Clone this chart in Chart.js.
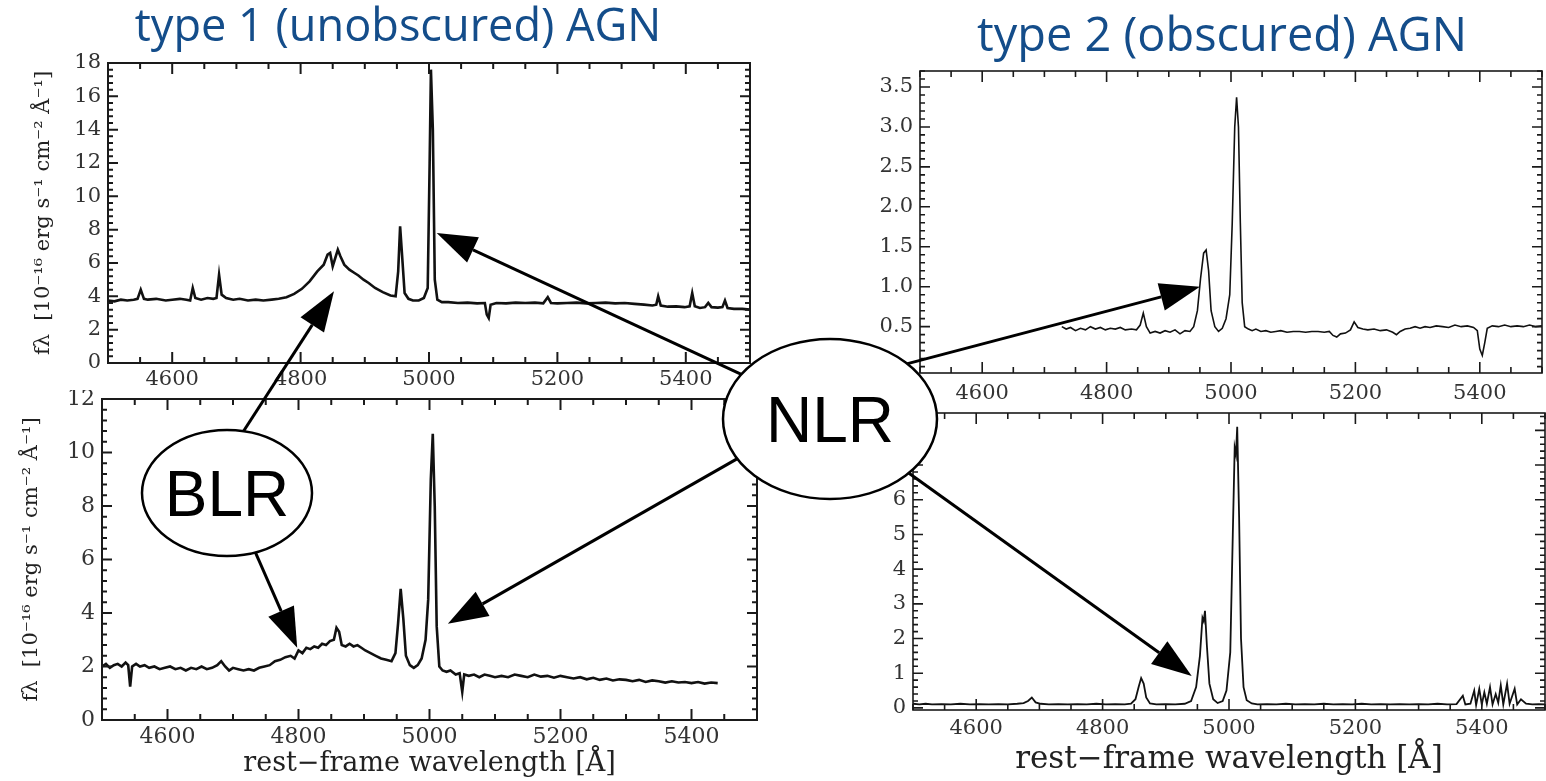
<!DOCTYPE html>
<html>
<head>
<meta charset="utf-8">
<script src="https://cdn.jsdelivr.net/npm/chart.js@4.4.1/dist/chart.umd.min.js"></script>
<style>
  html, body { margin: 0; padding: 0; background: #fff; }
  body { width: 1546px; height: 781px; position: relative; overflow: hidden; }
  canvas { position: absolute; }
</style>
</head>
<body>
<canvas id="c1" width="760" height="345" style="left:0;top:50px"></canvas>
<canvas id="c2" width="770" height="391" style="left:0;top:390px"></canvas>
<canvas id="c3" width="696" height="345" style="left:850px;top:60px"></canvas>
<canvas id="c4" width="696" height="376" style="left:850px;top:405px"></canvas>
<canvas id="overlay" width="1546" height="781" style="left:0;top:0;pointer-events:none"></canvas>
<script>
// type 1, upper spectrum
const wlT1a = [4500,4510,4520,4530,4540,4546,4551,4556,4562,4575,
  4590,4600,4612,4622,4628,4632,4636,4645,4655,4664,
  4669,4673,4677,4684,4695,4705,4718,4730,4742,4755,
  4766,4778,4790,4802,4814,4826,4836,4842,4846,4850,
  4854,4858,4862,4868,4876,4884,4890,4898,4906,4916,
  4928,4940,4948,4952,4955,4958,4962,4968,4975,4984,
  4992,4998,5001,5003,5006,5009,5013,5020,5030,5045,
  5060,5075,5087,5090,5093,5096,5105,5120,5135,5150,
  5165,5178,5185,5190,5200,5215,5230,5245,5260,5275,
  5290,5305,5320,5335,5348,5354,5357,5361,5372,5385,
  5398,5406,5410,5414,5422,5430,5435,5440,5450,5457,
  5461,5465,5475,5488,5500];
const flT1a = [3.75,3.7,3.8,3.75,3.8,3.85,4.4,3.85,3.8,3.85,
  3.75,3.8,3.85,3.8,3.75,4.5,3.9,3.8,3.9,3.85,
  3.9,5.3,4.1,3.9,3.8,3.85,3.75,3.8,3.75,3.8,
  3.85,3.95,4.15,4.45,4.9,5.5,5.9,6.5,6.6,5.8,
  6.3,6.8,6.4,5.9,5.6,5.4,5.25,5.0,4.8,4.5,
  4.25,4.05,4.0,5.5,8.2,6.5,4.2,3.85,3.75,3.75,
  3.9,4.5,12,17.6,14,5.0,3.8,3.65,3.65,3.6,
  3.62,3.58,3.6,2.9,2.7,3.5,3.6,3.58,3.62,3.6,
  3.62,3.58,3.95,3.6,3.58,3.6,3.62,3.58,3.6,3.62,
  3.58,3.6,3.55,3.5,3.45,3.5,4.0,3.45,3.38,3.4,
  3.35,3.4,4.2,3.4,3.3,3.35,3.6,3.35,3.32,3.35,
  3.75,3.3,3.25,3.25,3.2];

// type 1, lower spectrum
const wlT1b = [4500,4506,4512,4518,4524,4530,4536,4540,4543,4546,
  4552,4558,4565,4572,4580,4588,4596,4604,4612,4620,
  4628,4636,4644,4652,4660,4668,4676,4682,4688,4694,
  4700,4708,4716,4724,4732,4740,4748,4756,4764,4772,
  4780,4788,4794,4800,4806,4812,4818,4824,4830,4836,
  4842,4848,4854,4858,4862,4866,4872,4878,4884,4890,
  4896,4902,4910,4918,4926,4934,4942,4948,4952,4956,
  4960,4964,4970,4976,4982,4988,4994,4998,5002,5005,
  5008,5011,5015,5020,5026,5032,5040,5046,5050,5053,
  5060,5068,5076,5084,5092,5100,5110,5120,5130,5140,
  5150,5160,5170,5180,5190,5200,5210,5220,5230,5240,
  5250,5260,5270,5280,5290,5300,5310,5320,5330,5340,
  5350,5360,5370,5380,5390,5400,5410,5420,5430,5440];
const flT1b = [2.0,2.1,1.95,2.05,2.1,2.0,2.15,2.05,1.25,2.0,
  2.1,2.0,2.05,1.95,2.0,1.9,1.95,2.0,1.9,1.95,
  1.85,1.95,1.9,2.0,1.9,1.95,2.05,2.2,2.0,1.85,
  1.95,1.9,1.85,1.9,1.85,1.95,2.0,2.05,2.2,2.25,
  2.35,2.4,2.3,2.6,2.5,2.7,2.65,2.75,2.7,2.85,
  2.8,2.95,3.0,3.45,3.3,2.8,2.75,2.85,2.75,2.8,
  2.7,2.6,2.5,2.4,2.3,2.25,2.2,2.5,3.6,4.9,
  3.8,2.4,2.05,1.95,2.05,2.3,3.0,4.5,9.0,10.7,
  8.0,3.5,2.0,1.85,1.8,1.85,1.7,1.75,1.05,1.7,
  1.65,1.7,1.6,1.7,1.65,1.6,1.65,1.6,1.7,1.65,
  1.6,1.7,1.62,1.65,1.58,1.65,1.6,1.55,1.6,1.52,
  1.58,1.5,1.55,1.48,1.52,1.5,1.45,1.5,1.42,1.48,
  1.45,1.4,1.45,1.4,1.42,1.38,1.42,1.36,1.4,1.38];

// type 2, upper spectrum
const wlT2a = [4728,4735,4742,4750,4758,4766,4774,4782,4790,4798,
  4806,4814,4822,4830,4840,4848,4854,4859,4864,4870,
  4878,4886,4894,4902,4910,4918,4926,4934,4940,4946,
  4951,4956,4960,4964,4968,4974,4980,4986,4992,4998,
  5002,5006,5009,5012,5015,5018,5022,5028,5034,5040,
  5048,5056,5064,5072,5080,5090,5100,5110,5120,5130,
  5140,5150,5158,5164,5170,5176,5184,5192,5198,5204,
  5212,5220,5230,5240,5250,5260,5266,5272,5280,5288,
  5296,5304,5312,5320,5330,5340,5350,5360,5370,5380,
  5390,5396,5400,5404,5408,5412,5420,5430,5440,5450,
  5460,5470,5480,5490,5500];
const flT2a = [0.5,0.47,0.49,0.45,0.48,0.46,0.5,0.47,0.49,0.46,
  0.48,0.47,0.49,0.46,0.47,0.46,0.52,0.67,0.5,0.42,
  0.44,0.42,0.45,0.43,0.46,0.41,0.45,0.44,0.5,0.7,
  1.1,1.42,1.46,1.2,0.7,0.5,0.44,0.48,0.6,0.9,
  1.8,3.0,3.37,3.0,1.8,0.8,0.5,0.47,0.45,0.47,
  0.44,0.45,0.43,0.44,0.45,0.43,0.44,0.44,0.43,0.44,
  0.44,0.43,0.44,0.39,0.37,0.41,0.42,0.46,0.56,0.49,
  0.47,0.46,0.47,0.45,0.46,0.43,0.4,0.44,0.47,0.48,
  0.5,0.48,0.5,0.49,0.51,0.5,0.49,0.52,0.5,0.51,
  0.49,0.45,0.22,0.14,0.3,0.48,0.51,0.5,0.52,0.5,
  0.51,0.5,0.52,0.5,0.51];

// type 2, lower spectrum
const wlT2b = [4500,4510,4520,4530,4545,4560,4575,4590,4605,4620,
  4635,4650,4665,4675,4682,4688,4694,4702,4715,4730,
  4745,4760,4775,4790,4805,4820,4835,4845,4852,4857,
  4861,4865,4869,4875,4885,4900,4915,4930,4940,4948,
  4954,4958,4960,4962,4965,4969,4975,4982,4990,4996,
  5002,5006,5009,5011,5013,5016,5019,5023,5028,5036,
  5045,5060,5075,5090,5105,5120,5135,5150,5165,5180,
  5195,5210,5225,5240,5255,5270,5285,5300,5315,5330,
  5345,5360,5370,5374,5382,5388,5391,5396,5400,5404,
  5408,5413,5417,5422,5426,5430,5434,5440,5444,5452,
  5456,5462,5470,5480,5490,5500];
const flT2b = [0.12,0.1,0.12,0.1,0.11,0.1,0.12,0.1,0.11,0.1,
  0.11,0.1,0.12,0.14,0.2,0.3,0.16,0.12,0.1,0.11,
  0.1,0.11,0.1,0.12,0.1,0.11,0.1,0.12,0.25,0.6,
  0.86,0.7,0.3,0.13,0.1,0.11,0.1,0.12,0.2,0.6,
  1.5,2.6,2.5,2.8,1.8,0.7,0.25,0.14,0.2,0.5,
  1.6,5.0,7.5,7.3,8.1,5.5,2.0,0.6,0.22,0.13,
  0.1,0.11,0.1,0.12,0.1,0.11,0.1,0.12,0.1,0.11,
  0.1,0.12,0.1,0.11,0.1,0.11,0.1,0.11,0.1,0.12,
  0.1,0.11,0.35,0.1,0.12,0.5,0.08,0.55,0.1,0.45,
  0.12,0.6,0.1,0.4,0.15,0.65,0.1,0.7,0.12,0.55,
  0.1,0.25,0.12,0.1,0.11,0.1];

// tick labels
const xLabels = [4600, 4800, 5000, 5200, 5400];
const yLabels1 = [0, 2, 4, 6, 8, 10, 12, 14, 16, 18];
const yLabels2 = [0, 2, 4, 6, 8, 10, 12];
const yLabels3 = [0.5, 1.0, 1.5, 2.0, 2.5, 3.0, 3.5];
const yLabels4 = [0, 1, 2, 3, 4, 5, 6, 7, 8];

const serif = "'DejaVu Serif', 'Liberation Serif', serif";
const yTitle = 'fλ  [10⁻¹⁶ erg s⁻¹ cm⁻² Å⁻¹]';
const xTitle = 'rest−frame wavelength [Å]';

function steps(a, b, s) {
  const out = [];
  for (let v = a; v <= b + 1e-9; v += s) out.push(Math.round(v * 1000) / 1000);
  return out;
}

// matplotlib-like frame with inward ticks on all four sides
const frameTicks = {
  id: 'frameTicks',
  afterDatasetsDraw(chart, args, o) {
    const {ctx, chartArea: a, scales: {x, y}} = chart;
    ctx.save();
    ctx.strokeStyle = '#1a1a1a';
    ctx.lineWidth = o.tickWidth;
    ctx.beginPath();
    const xt = (vals, len) => vals.forEach(v => {
      if (v < x.min || v > x.max) return;
      const p = x.getPixelForValue(v);
      ctx.moveTo(p, a.bottom); ctx.lineTo(p, a.bottom - len);
      ctx.moveTo(p, a.top); ctx.lineTo(p, a.top + len);
    });
    const yt = (vals, len) => vals.forEach(v => {
      if (v < y.min || v > y.max) return;
      const p = y.getPixelForValue(v);
      ctx.moveTo(a.left, p); ctx.lineTo(a.left + len, p);
      ctx.moveTo(a.right, p); ctx.lineTo(a.right - len, p);
    });
    xt(steps(4500, 5500, 50), 6);
    xt(xLabels, 11);
    yt(o.yMinor, 5);
    yt(o.yMajor, 10);
    ctx.stroke();
    ctx.lineWidth = o.frameWidth;
    ctx.strokeRect(a.left, a.top, a.width, a.height);
    ctx.restore();
  }
};

function panel(id, wl, fl, c) {
  return new Chart(document.getElementById(id), {
    type: 'line',
    data: {
      datasets: [{
        data: wl.map((w, i) => ({x: w, y: fl[i]})),
        borderColor: '#111',
        borderWidth: c.lw,
        pointRadius: 0,
        tension: 0,
        fill: false
      }]
    },
    options: {
      responsive: false,
      animation: false,
      events: [],
      layout: {padding: c.pad},
      plugins: {
        legend: {display: false},
        tooltip: {enabled: false},
        frameTicks: {yMajor: c.yLabels, yMinor: steps(0, c.ymax, c.yMinorStep),
          tickWidth: c.tw, frameWidth: c.fw}
      },
      scales: {
        x: {
          type: 'linear', min: 4500, max: 5500,
          grid: {display: false, drawTicks: false},
          border: {display: false},
          afterBuildTicks: s => { s.ticks = xLabels.map(v => ({value: v})); },
          afterFit: s => { s.height = c.xH; s.paddingLeft = 0; s.paddingRight = 0; },
          ticks: {autoSkip: false, maxRotation: 0, padding: c.xPad, color: '#333',
            font: {family: serif, size: c.xFont}, callback: v => String(v)},
          title: c.xTitle ? {display: true, text: xTitle, color: '#222',
            font: {family: serif, size: c.xTitleSize}, padding: {top: 0, bottom: c.xTitlePad}} : {display: false}
        },
        y: {
          type: 'linear', min: c.ymin, max: c.ymax,
          grid: {display: false, drawTicks: false},
          border: {display: false},
          afterBuildTicks: s => { s.ticks = c.yLabels.map(v => ({value: v})); },
          afterFit: s => { s.width = c.yW; s.paddingTop = 0; s.paddingBottom = 0; },
          ticks: {autoSkip: false, padding: 7, color: '#333',
            font: {family: serif, size: c.yFont}, callback: c.fmt},
          title: c.yTitle ? {display: true, text: yTitle, color: '#222',
            font: {family: serif, size: 21}, padding: {top: c.yTitlePad, bottom: 0}} : {display: false}
        }
      }
    },
    plugins: [frameTicks]
  });
}

const offsets = [[0, 50], [0, 390], [850, 60], [850, 405]];
const charts = [
  panel('c1', wlT1a, flT1a, {ymin: 0, ymax: 18, yLabels: yLabels1, yMinorStep: 0.4,
    pad: {left: 0, top: 13, right: 10, bottom: 0}, yW: 108, xH: 32, lw: 2.6, tw: 2, fw: 2,
    xFont: 21, yFont: 21, xPad: 4, yTitle: true, yTitlePad: 31, xTitle: false, fmt: v => String(v)}),
  panel('c2', wlT1b, flT1b, {ymin: 0, ymax: 12, yLabels: yLabels2, yMinorStep: 0.4,
    pad: {left: 0, top: 9, right: 13, bottom: 0}, yW: 102, xH: 61, lw: 2.6, tw: 2, fw: 2,
    xFont: 22, yFont: 22, xPad: 4, yTitle: true, yTitlePad: 19, xTitle: true, xTitleSize: 27,
    xTitlePad: 1, fmt: v => String(v)}),
  panel('c3', wlT2a, flT2a, {ymin: -0.08, ymax: 3.7, yLabels: yLabels3, yMinorStep: 0.1,
    pad: {left: 0, top: 11, right: 4, bottom: 0}, yW: 70, xH: 32, lw: 1.6, tw: 1.6, fw: 1.6,
    xFont: 21, yFont: 21, xPad: 8, yTitle: false, xTitle: false, fmt: v => v.toFixed(1)}),
  panel('c4', wlT2b, flT2b, {ymin: -0.06, ymax: 8.5, yLabels: yLabels4, yMinorStep: 0.2,
    pad: {left: 0, top: 8, right: 1, bottom: 0}, yW: 63, xH: 71, lw: 1.8, tw: 1.6, fw: 1.6,
    xFont: 21, yFont: 21, xPad: 6, yTitle: false, xTitle: true, xTitleSize: 31,
    xTitlePad: 2, fmt: v => String(v)})
];

// annotations: arrows from the labels to features in the spectra (tip given in data units)
const arrows = [
  {panel: 0, from: [243, 432], at: [4852, 4.3]},
  {panel: 1, from: [257, 556], at: [4798, 2.7]},
  {panel: 0, from: [730, 369], at: [5012, 7.8]},
  {panel: 1, from: [742, 456], at: [5028, 3.6]},
  {panel: 2, from: [910, 363], at: [4950, 1.0]},
  {panel: 3, from: [906, 471], at: [4941, 0.92]}
];
const bubbles = [
  {text: 'BLR', cx: 227, cy: 493, rx: 85, ry: 63},
  {text: 'NLR', cx: 830, cy: 419, rx: 107, ry: 80}
];

function drawArrow(ctx, x0, y0, x1, y1) {
  const ang = Math.atan2(y1 - y0, x1 - x0);
  const len = 40, hw = 14;
  // tail runs a little way into the bubble, which is painted over it
  const sx = x0 - 25 * Math.cos(ang), sy = y0 - 25 * Math.sin(ang);
  const bx = x1 - len * Math.cos(ang), by = y1 - len * Math.sin(ang);
  ctx.beginPath();
  ctx.moveTo(sx, sy);
  ctx.lineTo(bx, by);
  ctx.stroke();
  ctx.beginPath();
  ctx.moveTo(x1, y1);
  ctx.lineTo(bx + hw * Math.sin(ang), by - hw * Math.cos(ang));
  ctx.lineTo(bx - hw * Math.sin(ang), by + hw * Math.cos(ang));
  ctx.closePath();
  ctx.fill();
}

function fitText(ctx, text, cx, baseline, width) {
  ctx.font = "40px 'Open Sans', 'Noto Sans', sans-serif";
  const size = 40 * width / ctx.measureText(text).width;
  ctx.font = size.toFixed(1) + "px 'Open Sans', 'Noto Sans', sans-serif";
  ctx.textAlign = 'center';
  ctx.textBaseline = 'alphabetic';
  ctx.fillText(text, cx, baseline);
}

const ov = document.getElementById('overlay').getContext('2d');
ov.fillStyle = '#144d8a';
fitText(ov, 'type 1 (unobscured) AGN', 398, 41, 527);
fitText(ov, 'type 2 (obscured) AGN', 1222, 51, 490);

ov.strokeStyle = '#000';
ov.fillStyle = '#000';
ov.lineWidth = 3;
arrows.forEach(a => {
  const ch = charts[a.panel], off = offsets[a.panel];
  const tx = off[0] + ch.scales.x.getPixelForValue(a.at[0]);
  const ty = off[1] + ch.scales.y.getPixelForValue(a.at[1]);
  drawArrow(ov, a.from[0], a.from[1], tx, ty);
});

bubbles.forEach(b => {
  ov.beginPath();
  ov.ellipse(b.cx, b.cy, b.rx, b.ry, 0, 0, Math.PI * 2);
  ov.fillStyle = '#fff';
  ov.fill();
  ov.lineWidth = 2.5;
  ov.strokeStyle = '#000';
  ov.stroke();
  ov.fillStyle = '#000';
  ov.font = "64px 'Liberation Sans', Arial, sans-serif";
  ov.textAlign = 'center';
  ov.textBaseline = 'alphabetic';
  ov.fillText(b.text, b.cx, b.cy + 23);
});
</script>
</body>
</html>
